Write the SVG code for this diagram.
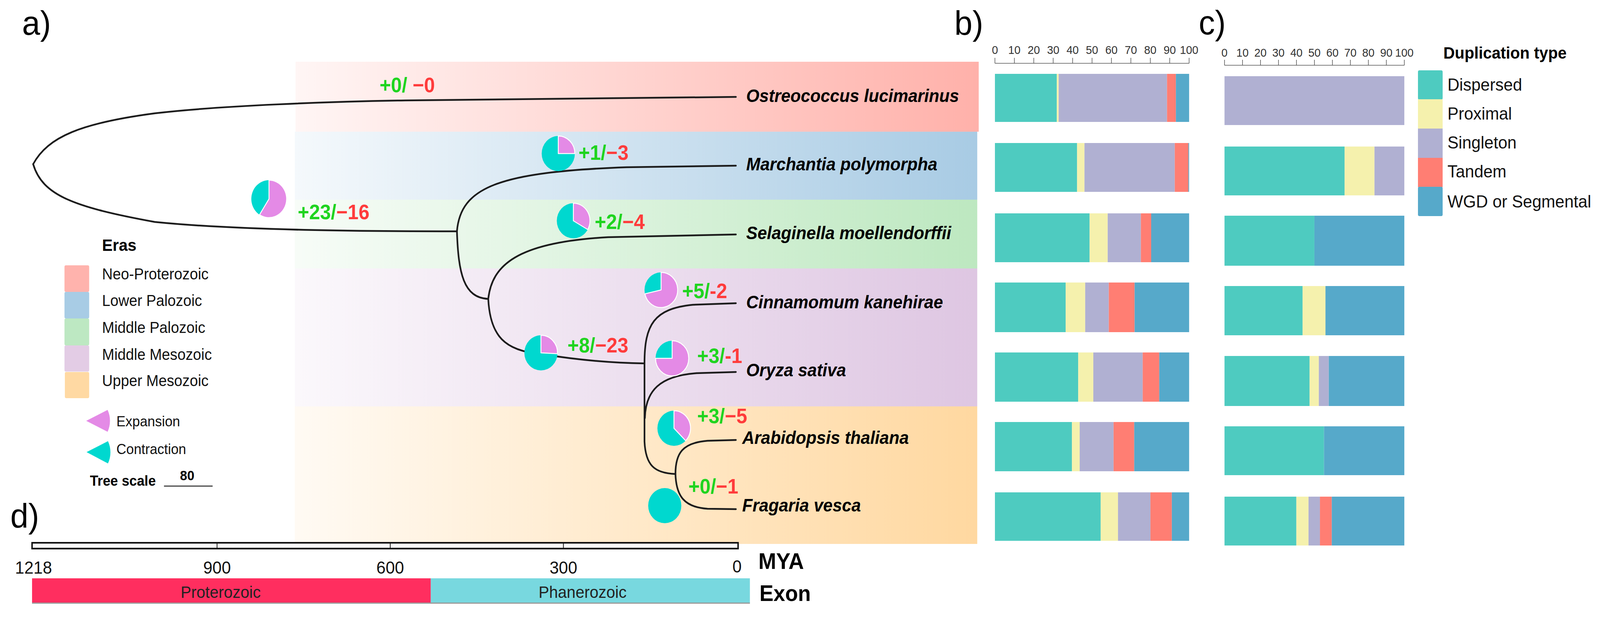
<svg xmlns="http://www.w3.org/2000/svg" width="4342" height="1579" viewBox="0 0 4342 1579" preserveAspectRatio="none" style="width:100vw;height:100vh;display:block">
<style>
text{font-family:"Liberation Sans",Arial,sans-serif;}
.panel{font-size:88px;fill:#000;}
.taxon{font-size:46px;font-weight:bold;font-style:italic;fill:#000;}
.cnt{font-size:53px;font-weight:bold;}
.g{fill:#1fd41f;}
.r{fill:#ff3b3b;}
.br{fill:none;stroke:#1c1c1c;stroke-width:4.5;stroke-linecap:round;}
.leg{font-size:40px;fill:#111;}
.tick{font-size:30px;fill:#333;text-anchor:middle;}
.ax{stroke:#555;stroke-width:1.6;fill:none;}
.cy{fill:#00d8cf;}
.pk{fill:#e48ae6;stroke:#fff;stroke-width:2.5;stroke-linejoin:round;}
.disp{fill:#4ecbc0;}
.prox{fill:#f5f1ad;}
.sing{fill:#b0b0d2;}
.tand{fill:#ff7e73;}
.wgd{fill:#56a9ca;}
.dleg{font-size:45px;fill:#111;}
.mya{font-size:45px;fill:#111;text-anchor:middle;}
</style>
<defs>
<linearGradient id="gPink" x1="0" x2="1" y1="0" y2="0"><stop offset="0" stop-color="#ffb1aa" stop-opacity="0.12"/><stop offset="1" stop-color="#ffb1aa" stop-opacity="1"/></linearGradient>
<linearGradient id="gBlue" x1="0" x2="1" y1="0" y2="0"><stop offset="0" stop-color="#a8cbe4" stop-opacity="0.12"/><stop offset="1" stop-color="#a8cbe4" stop-opacity="1"/></linearGradient>
<linearGradient id="gGreen" x1="0" x2="1" y1="0" y2="0"><stop offset="0" stop-color="#bde8c0" stop-opacity="0.12"/><stop offset="1" stop-color="#bde8c0" stop-opacity="1"/></linearGradient>
<linearGradient id="gPurple" x1="0" x2="1" y1="0" y2="0"><stop offset="0" stop-color="#dec6e2" stop-opacity="0.12"/><stop offset="1" stop-color="#dec6e2" stop-opacity="1"/></linearGradient>
<linearGradient id="gOrange" x1="0" x2="1" y1="0" y2="0"><stop offset="0" stop-color="#ffd8a0" stop-opacity="0.12"/><stop offset="1" stop-color="#ffd8a0" stop-opacity="1"/></linearGradient>
<linearGradient id="gBar" x1="0" x2="0" y1="0" y2="1"><stop offset="0" stop-color="#cfcfcf"/><stop offset="0.5" stop-color="#ffffff"/><stop offset="1" stop-color="#d8d8d8"/></linearGradient>
</defs>
<rect width="4342" height="1579" fill="#fff"/>

<!-- panel labels -->
<text class="panel" x="60" y="89">a)</text>
<text class="panel" x="2590" y="89">b)</text>
<text class="panel" x="3253" y="88">c)</text>
<text class="panel" x="28" y="1350">d)</text>

<!-- era bands -->
<g id="bands">
<rect x="802" y="158" width="1854" height="179" fill="url(#gPink)"/>
<rect x="800" y="337" width="1852" height="174" fill="url(#gBlue)"/>
<rect x="800" y="511" width="1852" height="176" fill="url(#gGreen)"/>
<rect x="800" y="687" width="1852" height="353" fill="url(#gPurple)"/>
<rect x="800" y="1040" width="1852" height="352" fill="url(#gOrange)"/>
</g>

<!-- tree branches -->
<g id="connectors">
<path class="br" d="M 90 420 C 130 350, 220 315, 420 290 C 600 270, 900 260, 1100 257 L 1997 248"/>
<path class="br" d="M 90 420 C 115 500, 200 530, 420 568 C 650 590, 1000 592, 1240 592"/>
<path class="br" d="M 1240 592 C 1250 480, 1350 440, 1700 428 L 1997 424"/>
<path class="br" d="M 1240 592 C 1244 700, 1258 762, 1325 765"/>
<path class="br" d="M 1325 765 C 1335 680, 1400 620, 1650 607 L 1997 600"/>
<path class="br" d="M 1325 765 C 1330 860, 1370 898, 1468 906 C 1560 920, 1660 929, 1749 930"/>
<path class="br" d="M 1749 930 C 1749 830, 1775 790, 1880 780 L 1997 776"/>
<path class="br" d="M 1749 930 L 1749 1130 C 1752 1190, 1775 1211, 1833 1213"/>
<path class="br" d="M 1750 1070 C 1752 1000, 1790 962, 1890 955 L 1997 952"/>
<path class="br" d="M 1833 1213 C 1833 1160, 1852 1133, 1920 1128 L 1997 1126"/>
<path class="br" d="M 1833 1213 C 1835 1270, 1857 1298, 1920 1302 L 1997 1303"/>
</g>

<!-- taxa -->
<g id="taxon-ostreococcus"><text class="taxon" x="2025" y="261">Ostreococcus lucimarinus</text></g>
<g id="taxon-marchantia"><text class="taxon" x="2025" y="436">Marchantia polymorpha</text></g>
<g id="taxon-selaginella"><text class="taxon" x="2025" y="612">Selaginella moellendorffii</text></g>
<g id="taxon-cinnamomum"><text class="taxon" x="2025" y="789">Cinnamomum kanehirae</text></g>
<g id="taxon-oryza"><text class="taxon" x="2025" y="963">Oryza sativa</text></g>
<g id="taxon-arabidopsis"><text class="taxon" x="2014" y="1136">Arabidopsis thaliana</text></g>
<g id="taxon-fragaria"><text class="taxon" x="2014" y="1309">Fragaria vesca</text></g>

<!-- expansion/contraction nodes -->
<g id="node-ostreococcus">
<text class="cnt" x="1030" y="236"><tspan class="g">+0/ </tspan><tspan class="r">−0</tspan></text>
</g>
<g id="node-root">
<circle class="cy" cx="730" cy="509" r="48"/>
<path class="pk" d="M 730 509 L 730 461 A 48 48 0 1 1 704.3 549.6 Z"/>
<text class="cnt" x="808" y="561"><tspan class="g">+23/</tspan><tspan class="r">−16</tspan></text>
</g>
<g id="node-marchantia">
<circle class="cy" cx="1515" cy="393" r="45"/>
<path class="pk" d="M 1515 393 L 1515 348 A 45 45 0 0 1 1560 393 Z"/>
<text class="cnt" x="1570" y="409"><tspan class="g">+1/</tspan><tspan class="r">−3</tspan></text>
</g>
<g id="node-selaginella">
<circle class="cy" cx="1556" cy="565" r="45"/>
<path class="pk" d="M 1556 565 L 1556 520 A 45 45 0 0 1 1595 587.5 Z"/>
<text class="cnt" x="1614" y="586"><tspan class="g">+2/</tspan><tspan class="r">−4</tspan></text>
</g>
<g id="node-angiosperms">
<circle class="cy" cx="1468" cy="903" r="45"/>
<path class="pk" d="M 1468 903 L 1468 858 A 45 45 0 0 1 1512.9 905.3 Z"/>
<text class="cnt" x="1540" y="902"><tspan class="g">+8/</tspan><tspan class="r">−23</tspan></text>
</g>
<g id="node-cinnamomum">
<circle class="cy" cx="1794" cy="742" r="45"/>
<path class="pk" d="M 1794 742 L 1794 697 A 45 45 0 1 1 1750.1 752 Z"/>
<text class="cnt" x="1851" y="763"><tspan class="g">+5/</tspan><tspan class="r">-2</tspan></text>
</g>
<g id="node-oryza">
<circle class="cy" cx="1824" cy="917" r="45"/>
<path class="pk" d="M 1824 917 L 1824 872 A 45 45 0 1 1 1779 917 Z"/>
<text class="cnt" x="1892" y="929"><tspan class="g">+3/</tspan><tspan class="r">-1</tspan></text>
</g>
<g id="node-arabidopsis">
<circle class="cy" cx="1829" cy="1096" r="45"/>
<path class="pk" d="M 1829 1096 L 1829 1051 A 45 45 0 0 1 1860.8 1127.8 Z"/>
<text class="cnt" x="1892" y="1083"><tspan class="g">+3/</tspan><tspan class="r">−5</tspan></text>
</g>
<g id="node-fragaria">
<circle class="cy" cx="1804" cy="1294" r="45"/>
<text class="cnt" x="1868" y="1263"><tspan class="g">+0/</tspan><tspan class="r">−1</tspan></text>
</g>

<!-- eras legend -->
<g id="legend-eras">
<text x="277" y="642" style="font-size:43px;font-weight:bold;fill:#000">Eras</text>
<rect x="175" y="679" width="67" height="68" rx="4" fill="#ffb3ad"/>
<rect x="175" y="747" width="67" height="68" rx="4" fill="#a8cce5"/>
<rect x="175" y="815" width="67" height="69" rx="4" fill="#bde8c2"/>
<rect x="175" y="884" width="67" height="67" rx="4" fill="#e3cce5"/>
<rect x="176" y="952" width="66" height="67" rx="4" fill="#ffd9a3"/>
<text class="leg" x="277" y="715">Neo-Proterozoic</text>
<text class="leg" x="277" y="783">Lower Palozoic</text>
<text class="leg" x="277" y="852">Middle Palozoic</text>
<text class="leg" x="277" y="921">Middle Mesozoic</text>
<text class="leg" x="277" y="988">Upper Mesozoic</text>
<path d="M 234 1077 L 292 1049 A 64 64 0 0 1 292 1105 Z" fill="#e48ae6"/>
<text x="316" y="1091" style="font-size:37px;fill:#111">Expansion</text>
<path d="M 235 1157 L 293 1129 A 64 64 0 0 1 293 1186 Z" fill="#00d8cf"/>
<text x="316" y="1162" style="font-size:37px;fill:#111">Contraction</text>
<text x="244" y="1243" style="font-size:37px;font-weight:bold;fill:#000">Tree scale</text>
<text x="508" y="1229" style="font-size:35px;font-weight:bold;fill:#000;text-anchor:middle">80</text>
<line x1="445" y1="1244" x2="577" y2="1244" stroke="#444" stroke-width="3"/>
</g>

<!-- panel b -->
<g id="panel-b">
<g id="axis-b">
<line class="ax" x1="2700" y1="162" x2="3227" y2="162"/>
<path class="ax" d="M2700 148V162M2752.7 148V162M2805.4 148V162M2858.1 148V162M2910.8 148V162M2963.5 148V162M3016.2 148V162M3068.9 148V162M3121.6 148V162M3174.3 148V162M3227 148V162"/>
<text class="tick" x="2700" y="138">0</text>
<text class="tick" x="2752.7" y="138">10</text>
<text class="tick" x="2805.4" y="138">20</text>
<text class="tick" x="2858.1" y="138">30</text>
<text class="tick" x="2910.8" y="138">40</text>
<text class="tick" x="2963.5" y="138">50</text>
<text class="tick" x="3016.2" y="138">60</text>
<text class="tick" x="3068.9" y="138">70</text>
<text class="tick" x="3121.6" y="138">80</text>
<text class="tick" x="3174.3" y="138">90</text>
<text class="tick" x="3227" y="138">100</text>
</g>
<g id="bar-b1"><rect class="disp" x="2700" y="189" width="168" height="123"/><rect class="prox" x="2868" y="189" width="5" height="123"/><rect class="sing" x="2873" y="189" width="294" height="123"/><rect class="tand" x="3167" y="189" width="24" height="123"/><rect class="wgd" x="3191" y="189" width="36" height="123"/></g>
<g id="bar-b2"><rect class="disp" x="2700" y="366" width="223" height="125"/><rect class="prox" x="2923" y="366" width="20" height="125"/><rect class="sing" x="2943" y="366" width="245" height="125"/><rect class="tand" x="3188" y="366" width="37" height="125"/><rect class="wgd" x="3225" y="366" width="2" height="125"/></g>
<g id="bar-b3"><rect class="disp" x="2700" y="546" width="257" height="125"/><rect class="prox" x="2957" y="546" width="49" height="125"/><rect class="sing" x="3006" y="546" width="90" height="125"/><rect class="tand" x="3096" y="546" width="28" height="125"/><rect class="wgd" x="3124" y="546" width="103" height="125"/></g>
<g id="bar-b4"><rect class="disp" x="2700" y="723" width="192" height="127"/><rect class="prox" x="2892" y="723" width="53" height="127"/><rect class="sing" x="2945" y="723" width="64" height="127"/><rect class="tand" x="3009" y="723" width="70" height="127"/><rect class="wgd" x="3079" y="723" width="148" height="127"/></g>
<g id="bar-b5"><rect class="disp" x="2700" y="902" width="226" height="126"/><rect class="prox" x="2926" y="902" width="41" height="126"/><rect class="sing" x="2967" y="902" width="134" height="126"/><rect class="tand" x="3101" y="902" width="45" height="126"/><rect class="wgd" x="3146" y="902" width="81" height="126"/></g>
<g id="bar-b6"><rect class="disp" x="2700" y="1080" width="209" height="126"/><rect class="prox" x="2909" y="1080" width="21" height="126"/><rect class="sing" x="2930" y="1080" width="92" height="126"/><rect class="tand" x="3022" y="1080" width="56" height="126"/><rect class="wgd" x="3078" y="1080" width="149" height="126"/></g>
<g id="bar-b7"><rect class="disp" x="2700" y="1260" width="287" height="124"/><rect class="prox" x="2987" y="1260" width="47" height="124"/><rect class="sing" x="3034" y="1260" width="88" height="124"/><rect class="tand" x="3122" y="1260" width="58" height="124"/><rect class="wgd" x="3180" y="1260" width="47" height="124"/></g>
</g>

<!-- panel c -->
<g id="panel-c">
<g id="axis-c">
<line class="ax" x1="3323" y1="167" x2="3811" y2="167"/>
<path class="ax" d="M3323 153V167M3371.8 153V167M3420.6 153V167M3469.4 153V167M3518.2 153V167M3567 153V167M3615.8 153V167M3664.6 153V167M3713.4 153V167M3762.2 153V167M3811 153V167"/>
<text class="tick" x="3323" y="145">0</text>
<text class="tick" x="3371.8" y="145">10</text>
<text class="tick" x="3420.6" y="145">20</text>
<text class="tick" x="3469.4" y="145">30</text>
<text class="tick" x="3518.2" y="145">40</text>
<text class="tick" x="3567" y="145">50</text>
<text class="tick" x="3615.8" y="145">60</text>
<text class="tick" x="3664.6" y="145">70</text>
<text class="tick" x="3713.4" y="145">80</text>
<text class="tick" x="3762.2" y="145">90</text>
<text class="tick" x="3811" y="145">100</text>
</g>
<g id="bar-c1"><rect class="sing" x="3323" y="195" width="488" height="125"/></g>
<g id="bar-c2"><rect class="disp" x="3323" y="375" width="326" height="125"/><rect class="prox" x="3649" y="375" width="81" height="125"/><rect class="sing" x="3730" y="375" width="81" height="125"/></g>
<g id="bar-c3"><rect class="disp" x="3323" y="552" width="244" height="128"/><rect class="wgd" x="3567" y="552" width="244" height="128"/></g>
<g id="bar-c4"><rect class="disp" x="3323" y="732" width="212" height="126"/><rect class="prox" x="3535" y="732" width="62" height="126"/><rect class="wgd" x="3597" y="732" width="214" height="126"/></g>
<g id="bar-c5"><rect class="disp" x="3323" y="911" width="231" height="128"/><rect class="prox" x="3554" y="911" width="25" height="128"/><rect class="sing" x="3579" y="911" width="27" height="128"/><rect class="wgd" x="3606" y="911" width="205" height="128"/></g>
<g id="bar-c6"><rect class="disp" x="3323" y="1091" width="270" height="125"/><rect class="wgd" x="3593" y="1091" width="218" height="125"/></g>
<g id="bar-c7"><rect class="disp" x="3323" y="1271" width="195" height="125"/><rect class="prox" x="3518" y="1271" width="33" height="125"/><rect class="sing" x="3551" y="1271" width="31" height="125"/><rect class="tand" x="3582" y="1271" width="32" height="125"/><rect class="wgd" x="3614" y="1271" width="197" height="125"/></g>
</g>

<!-- duplication legend -->
<g id="legend-duplication">
<text x="3917" y="150" style="font-size:43px;font-weight:bold;fill:#000">Duplication type</text>
<rect class="disp" x="3848" y="180" width="67" height="75" rx="4"/>
<rect class="prox" x="3848" y="254" width="67" height="75"/>
<rect class="sing" x="3848" y="329" width="67" height="75"/>
<rect class="tand" x="3848" y="404" width="67" height="75"/>
<rect class="wgd" x="3848" y="478" width="67" height="75" rx="4"/>
<text class="dleg" x="3928" y="232">Dispersed</text>
<text class="dleg" x="3928" y="306">Proximal</text>
<text class="dleg" x="3928" y="380">Singleton</text>
<text class="dleg" x="3928" y="454">Tandem</text>
<text class="dleg" x="3928" y="531">WGD or Segmental</text>
</g>

<!-- panel d timeline -->
<g id="timeline">
<rect x="87" y="1389" width="1916" height="15" fill="url(#gBar)" stroke="#111" stroke-width="4"/>
<line x1="589" y1="1389" x2="589" y2="1404" stroke="#111" stroke-width="2"/>
<line x1="1059" y1="1389" x2="1059" y2="1404" stroke="#111" stroke-width="2"/>
<line x1="1529" y1="1389" x2="1529" y2="1404" stroke="#111" stroke-width="2"/>
<text class="mya" x="91" y="1468">1218</text>
<text class="mya" x="589" y="1468">900</text>
<text class="mya" x="1059" y="1468">600</text>
<text class="mya" x="1529" y="1468">300</text>
<text class="mya" x="2000" y="1465">0</text>
<text x="2058" y="1456" style="font-size:58px;font-weight:bold;fill:#000">MYA</text>
</g>
<g id="exon">
<rect x="87" y="1480" width="1082" height="64" fill="#ff2e5f"/>
<rect x="1169" y="1480" width="866" height="64" fill="#78d8df"/>
<rect x="87" y="1542" width="1948" height="3" fill="#9a9a9a"/>
<text x="599" y="1530" style="font-size:43px;fill:#222;text-anchor:middle">Proterozoic</text>
<text x="1581" y="1530" style="font-size:43px;fill:#222;text-anchor:middle">Phanerozoic</text>
<text x="2061" y="1538" style="font-size:57px;font-weight:bold;fill:#000">Exon</text>
</g>
</svg>
